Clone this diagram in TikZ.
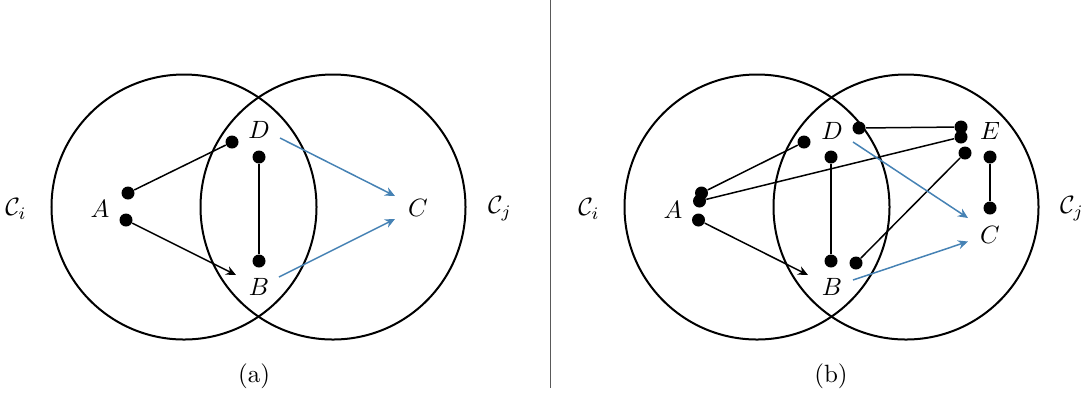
\documentclass[tikz,border=0pt]{standalone}
\usepackage{amsmath}
\usetikzlibrary{arrows.meta}
\definecolor{steel}{RGB}{70,130,180}
\tikzset{
	dot/.style={circle, fill=black, inner sep=0pt, minimum size=5.2pt},
	ring/.style={draw, line width=0.8pt},
	edge/.style={line width=0.6pt},
	flow/.style={line width=0.6pt, draw=steel, ->},
}
\begin{document}
\begin{tikzpicture}[x=0.4pt, y=-0.4pt, >={Stealth[length=4pt, width=3.6pt, inset=1.3pt]}]
	\useasboundingbox (0, 0) rectangle (1086, 396) ;
	% (a)
	\node (ci1)[ring, circle, minimum size=106pt] at (184, 207) {} ;
	\node (cj1)[ring, circle, minimum size=106pt] at (333, 207) {} ;
	\node (lci1) at (16, 209) {$\mathcal{C}_i$} ;
	\node (lcj1) at (500, 209) {$\mathcal{C}_j$} ;
	\node (la1) at (100, 209) {$A$} ;
	\node (lb1) at (259, 287) {$B$} ;
	\node (lc1) at (418, 208) {$C$} ;
	\node (ld1) at (259, 130) {$D$} ;
	\node (a1)[dot] at (128, 193) {} ;
	\node (a2)[dot] at (126, 220) {} ;
	\node (d1)[dot] at (232, 142) {} ;
	\node (d2)[dot] at (259, 157) {} ;
	\node (b1)[dot] at (259, 261) {} ;
	\coordinate (ab1) at (236, 275) ;
	\coordinate (fd1) at (280, 138) ;
	\coordinate (fb1) at (279, 277) ;
	\coordinate (tc1) at (395, 196) ;
	\coordinate (bc1) at (395, 219) ;
	\draw[edge] (a1) -- (d1) ;
	\draw[edge, ->] (a2) -- (ab1) ;
	\draw[edge] (d2) -- (b1) ;
	\draw[flow] (fd1) -- (tc1) ;
	\draw[flow] (fb1) -- (bc1) ;
	\node (cap1) at (254, 376) {(a)} ;
	% separator
	\coordinate (sep1) at (550.7, 0) ;
	\coordinate (sep2) at (550.7, 388) ;
	\draw[black!65, line width=0.5pt] (sep1) -- (sep2) ;
	% (b)
	\node (ci2)[ring, circle, minimum size=106pt] at (757, 207) {} ;
	\node (cj2)[ring, circle, minimum size=106pt] at (906, 207) {} ;
	\node (lci2) at (589, 209) {$\mathcal{C}_i$} ;
	\node (lcj2) at (1072, 209) {$\mathcal{C}_j$} ;
	\node (la2) at (673, 210) {$A$} ;
	\node (lb2) at (832, 287) {$B$} ;
	\node (lc2) at (990, 235) {$C$} ;
	\node (ld2) at (832, 131) {$D$} ;
	\node (le2) at (990, 131) {$E$} ;
	\node (a3)[dot] at (701.5, 193) {} ;
	\node (a4)[dot] at (699.5, 201) {} ;
	\node (a5)[dot] at (698.5, 220) {} ;
	\node (d3)[dot] at (804, 142) {} ;
	\node (d4)[dot] at (831, 157) {} ;
	\node (d5)[dot] at (859, 128) {} ;
	\node (e1)[dot] at (961, 127) {} ;
	\node (e2)[dot] at (961, 137) {} ;
	\node (e3)[dot] at (965, 153) {} ;
	\node (e4)[dot] at (990, 157) {} ;
	\node (c1)[dot] at (990, 208) {} ;
	\node (b2)[dot] at (831, 261) {} ;
	\node (b3)[dot] at (856, 263) {} ;
	\coordinate (ab2) at (808, 275) ;
	\coordinate (fd2) at (853, 142) ;
	\coordinate (fb2) at (853, 280) ;
	\coordinate (tc2) at (968, 218) ;
	\coordinate (bc2) at (968, 241.5) ;
	\draw[edge] (a3) -- (d3) ;
	\draw[edge] (a4) -- (e2) ;
	\draw[edge, ->] (a5) -- (ab2) ;
	\draw[edge] (d5) -- (e1) ;
	\draw[edge] (d4) -- (b2) ;
	\draw[edge] (b3) -- (e3) ;
	\draw[edge] (e4) -- (c1) ;
	\draw[flow] (fd2) -- (tc2) ;
	\draw[flow] (fb2) -- (bc2) ;
	\node (cap2) at (831, 376) {(b)} ;
\end{tikzpicture}
\end{document}
